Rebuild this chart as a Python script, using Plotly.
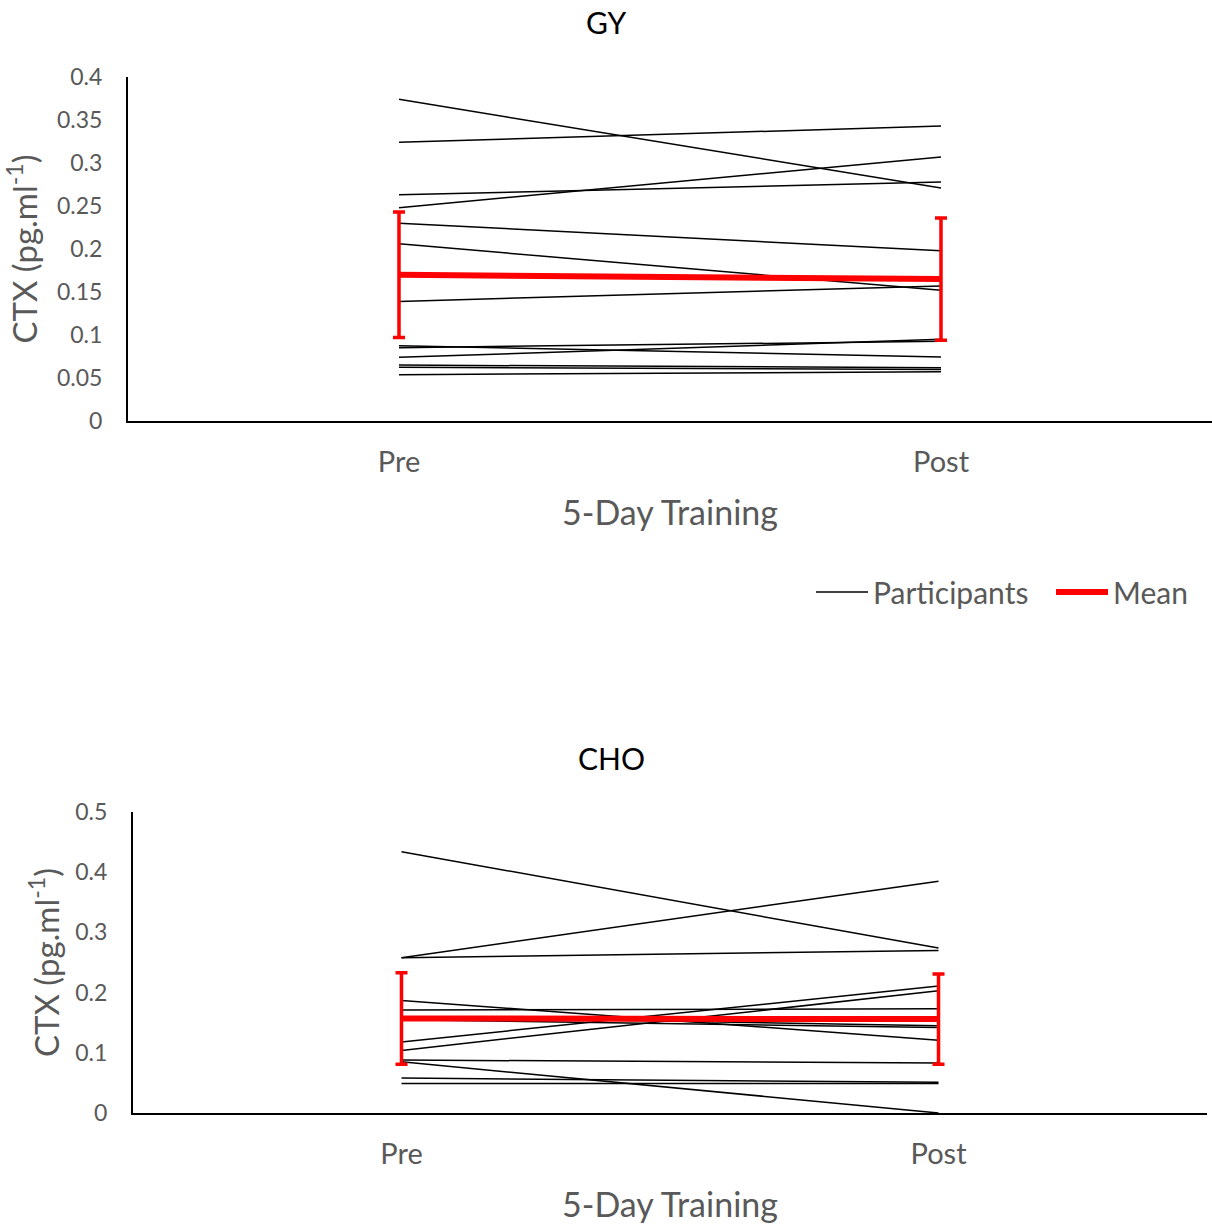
import plotly.graph_objects as go

# ---------------- data ----------------
timepoints = ["Pre", "Post"]

gy_pre = [0.374, 0.324, 0.263, 0.248, 0.230, 0.206, 0.139, 0.0876, 0.0853, 0.074, 0.065, 0.0624, 0.0539]
gy_post = [0.271, 0.343, 0.278, 0.307, 0.198, 0.152, 0.157, 0.0744, 0.0927, 0.095, 0.062, 0.060, 0.0573]
gy_mean = [0.170, 0.165]
gy_sd = [0.073, 0.071]

cho_pre = [0.434, 0.258, 0.258, 0.187, 0.171, 0.118, 0.104, 0.088, 0.085, 0.058, 0.049, 0.160, 0.155]
cho_post = [0.274, 0.385, 0.270, 0.121, 0.173, 0.211, 0.203, 0.083, 0.000, 0.051, 0.049, 0.145, 0.142]
cho_mean = [0.157, 0.156]
cho_sd = [0.076, 0.075]

gy_ticks = [0, 0.05, 0.1, 0.15, 0.2, 0.25, 0.3, 0.35, 0.4]
cho_ticks = [0, 0.1, 0.2, 0.3, 0.4, 0.5]

# ---------------- styles ----------------
FONT = "Lato"
GRAY = "#595959"
W, H = 1212, 1224

fig = go.Figure()


def add_panel(pre, post, mean, sd, xa, ya, show_legend):
    for i, (a, b) in enumerate(zip(pre, post)):
        fig.add_trace(go.Scatter(
            x=timepoints, y=[a, b], mode="lines",
            line=dict(color="black", width=1.5),
            xaxis=xa, yaxis=ya, name="Participants",
            legendgroup="p", showlegend=(show_legend and i == 0),
            hoverinfo="skip"))
    fig.add_trace(go.Scatter(
        x=timepoints, y=mean, mode="lines",
        line=dict(color="#FF0000", width=6),
        error_y=dict(type="data", array=sd, visible=True,
                     color="#FF0000", thickness=3.5, width=6),
        xaxis=xa, yaxis=ya, name="Mean",
        legendgroup="m", showlegend=show_legend))


add_panel(gy_pre, gy_post, gy_mean, gy_sd, "x", "y", True)
add_panel(cho_pre, cho_post, cho_mean, cho_sd, "x2", "y2", False)

xcommon = dict(type="category", range=[-0.5, 1.5], showline=True, linecolor="black",
               linewidth=2, showgrid=False, zeroline=False, ticks="", automargin=False,
               tickfont=dict(family=FONT, size=29, color=GRAY),
               ticklabelstandoff=14,
               title=dict(text="5-Day Training", font=dict(family=FONT, size=34, color=GRAY),
                          standoff=24))


def ycommon(standoff):
    return dict(showline=True, linecolor="black", linewidth=2, showgrid=False, automargin=False,
                zeroline=False, ticks="", tickfont=dict(family=FONT, size=23, color=GRAY),
                ticklabelstandoff=19,
                title=dict(text="CTX (pg.ml<sup>-1</sup>)",
                           font=dict(family=FONT, size=33, color=GRAY), standoff=standoff))


fig.update_layout(
    width=W, height=H,
    margin=dict(l=0, r=0, t=0, b=0, autoexpand=False),
    paper_bgcolor="white", plot_bgcolor="white",
    xaxis=dict(xcommon, domain=[128 / W, 1.0], anchor="y"),
    yaxis=dict(ycommon(10), domain=[1 - 421 / H, 1 - 77 / H], range=[0, 0.4],
               tickvals=gy_ticks, ticktext=[f"{t:g}" for t in gy_ticks], anchor="x"),
    xaxis2=dict(xcommon, domain=[133 / W, 1207 / W], anchor="y2"),
    yaxis2=dict(ycommon(6), domain=[1 - 1113 / H, 1 - 812 / H], range=[0, 0.5],
                tickvals=cho_ticks, ticktext=[f"{t:g}" for t in cho_ticks], anchor="x2"),
    showlegend=True,
    legend=dict(orientation="h", x=811 / W, xanchor="left", y=1 - 592 / H, yanchor="middle",
                font=dict(family=FONT, size=30, color=GRAY), itemwidth=52,
                entrywidth=173, entrywidthmode="pixels",
                bgcolor="rgba(0,0,0,0)", traceorder="normal"),
    annotations=[
        dict(text="GY", x=606 / W, y=1 - 22 / H, xref="paper", yref="paper",
             xanchor="center", yanchor="middle",
             showarrow=False, font=dict(family=FONT, size=30, color="black")),
        dict(text="CHO", x=611 / W, y=1 - 758 / H, xref="paper", yref="paper",
             xanchor="center", yanchor="middle",
             showarrow=False, font=dict(family=FONT, size=30, color="black")),
    ],
)

fig.write_html("out.html")
